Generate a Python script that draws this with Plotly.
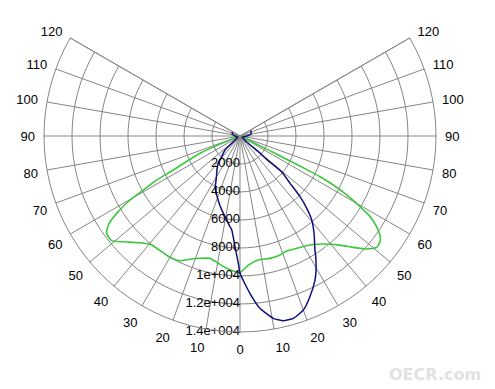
import plotly.graph_objects as go

# ---- data (angle in degrees from nadir, right side positive; intensity in cd) ----
blue_theta = [-120, -110, -100, -90, -80, -70, -60, -55, -50, -48, -47, -41.5, -38.5, -34.5, -32,
              -29, -26.6, -24.4, -22, -19.9, -16.5, -13, -9.5, -6.3, -5, -2.6, -0.75, 0,
              3.6, 6.6, 10.35, 13.2, 16.3, 20, 23.5, 27.5, 29.6, 32.1, 33.3, 37.3, 40.5,
              42.7, 44.7, 46.6, 49.2, 48.8, 49.4, 48, 55, 60, 70, 80, 90, 100, 110, 120]
blue_r = [600, 600, 500, 350, 250, 200, 200, 250, 460, 960, 1465, 1970, 2490, 2900, 3140,
          3500, 3910, 4235, 4480, 4710, 5120, 5540, 6000, 6520, 6740, 7910, 9095, 9810,
          11260, 12390, 13240, 13550, 13570, 13230, 12520, 11600, 11000, 10180, 9750, 8730, 7890,
          7030, 6100, 4920, 3920, 2560, 1720, 700, 250, 200, 200, 250, 500, 800, 850, 850]

green_theta = [-120, -100, -80, -70, -68, -66.6, -63, -62.2, -60.8, -59.8, -57.9, -55.95, -53.9,
               -50.8, -47.8, -43.1, -39, -34.1, -29.2, -25.7, -22.1, -18.1, -13.8, -9.7, -5.7,
               -2.1, 0, 3.7, 8.4, 13.8, 18.6, 21.3, 26.8, 32.7, 37.6, 42.5, 45.5, 48.3, 50.8,
               53, 54.7, 56.4, 58.2, 59.5, 61.1, 62.3, 63, 63.3, 63.8, 64.5, 70, 80, 100, 120]
green_r = [200, 200, 200, 250, 1500, 3110, 5350, 6730, 7910, 9090, 10400, 11350, 11790,
           11830, 11250, 10450, 10020, 9980, 10010, 9890, 9500, 9190, 9000, 9220, 9500,
           9700, 9760, 9240, 8950, 9000, 8970, 8870, 8990, 9250, 9740, 10570, 11350, 12130, 12590,
           12530, 12250, 11720, 10930, 9950, 8710, 7530, 6410, 5350, 2500, 500, 250, 200, 200, 200]

angle_ticks = list(range(-120, 121, 10))
angle_labels = [str(abs(a)) for a in angle_ticks]
radial_ticks = [2000, 4000, 6000, 8000, 10000, 12000, 14000]
radial_labels = ["2000", "4000", "6000", "8000", "1e+004", "1.2e+004", "1.4e+004"]
r_max = 14000

FONT = "Liberation Sans"
GRID = "#858585"

fig = go.Figure()
fig.add_trace(go.Scatterpolar(theta=green_theta, r=green_r, mode="lines",
                              line=dict(color="#3cc83c", width=1.6, shape="spline", smoothing=0.5),
                              hoverinfo="skip"))
fig.add_trace(go.Scatterpolar(theta=blue_theta, r=blue_r, mode="lines",
                              line=dict(color="#10107a", width=1.5, shape="spline", smoothing=0.5),
                              hoverinfo="skip"))
fig.add_trace(go.Scatterpolar(theta=[0] * len(radial_ticks), r=radial_ticks, mode="text",
                              text=radial_labels, textposition="middle left",
                              textfont=dict(family=FONT, size=13, color="black"),
                              hoverinfo="skip"))

fig.update_layout(
    width=495, height=389,
    margin=dict(l=44, r=59, t=38, b=57),
    paper_bgcolor="white",
    showlegend=False,
    polar=dict(
        bgcolor="white",
        sector=[150, 390],
        angularaxis=dict(
            rotation=-90, direction="counterclockwise",
            tickmode="array",
            tickvals=[a + 360 for a in angle_ticks],
            ticktext=angle_labels,
            showgrid=True, gridcolor=GRID, gridwidth=1,
            showline=True, linecolor=GRID, linewidth=1,
            ticks="outside", ticklen=6, tickcolor="rgba(0,0,0,0)",
            tickfont=dict(family=FONT, size=13, color="black"),
        ),
        radialaxis=dict(
            range=[0, r_max], tickmode="array", tickvals=radial_ticks,
            showticklabels=False, ticks="",
            showgrid=True, gridcolor=GRID, gridwidth=1,
            showline=False,
        ),
    ),
    annotations=[dict(text="<b>OECR.com</b>", x=(483 - 44) / 392, y=(389 - 57 - 374) / 294,
                      xref="paper", yref="paper", xanchor="right", yanchor="middle",
                      showarrow=False,
                      font=dict(family="DejaVu Sans", size=16, color="#e2e2e2"))],
)

fig.write_html("out.html")
